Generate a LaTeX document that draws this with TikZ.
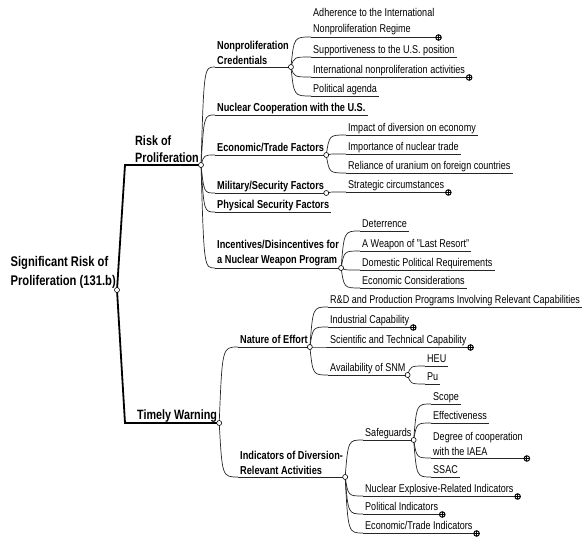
\documentclass[tikz,border=0pt]{standalone}
\usepackage{fontspec}
\setmainfont{Liberation Sans}[FakeStretch=0.8]
\usetikzlibrary{calc}

\begin{document}
\begin{tikzpicture}[x=1pt, y=-1pt,
  topic/.style={anchor=south west, inner xsep=2pt, inner ysep=2.5pt, text depth=1pt, align=left},
  twolines/.style={text depth={}, inner ysep=2pt},
  lvlzero/.style={font=\bfseries\fontsize{14}{19}\selectfont, align=left, inner xsep=1pt, inner ysep=1pt},
  lvlone/.style={topic, font=\bfseries\fontsize{13.5}{17}\selectfont},
  lvltwo/.style={topic, font=\bfseries\fontsize{11.5}{15}\selectfont},
  leaf/.style={topic, font=\fontsize{11.3}{15.5}\selectfont},
  twig/.style={line width=0.7pt, black!85},
  trunk/.style={line width=1.8pt, line join=miter},
  knob/.style={circle, draw, fill=white, line width=0.6pt, inner sep=0pt, minimum size=5pt},
  more/.style={circle, draw, fill=white, line width=1pt, inner sep=0pt, minimum size=5.5pt,
    path picture={\draw[line width=0.8pt] (path picture bounding box.west) -- (path picture bounding box.east)
      (path picture bounding box.north) -- (path picture bounding box.south);}}
]
\useasboundingbox (0,0) rectangle (584,540);
% the root
\node[lvlzero, anchor=south east] (root) at (117,290) {Significant Risk of\\Proliferation (131.b)};
\coordinate (rk) at (125,165);
\coordinate (wk) at (125,423);
% first level
\node[lvlone, twolines] (risk) at (133,165) {Risk of\\Proliferation};
\node[lvlone] (warn) at (135,423) {Timely Warning};
% risk of proliferation
\node[lvltwo, twolines] (cred) at (215,67) {Nonproliferation\\Credentials};
\node[lvltwo] (coop) at (215,115) {Nuclear Cooperation with the U.S.};
\node[lvltwo] (econ) at (215,155) {Economic/Trade Factors};
\node[lvltwo] (mil) at (215,193) {Military/Security Factors};
\node[lvltwo] (phys) at (215,212) {Physical Security Factors};
\node[lvltwo, twolines] (incent) at (215,268) {Incentives/Disincentives for\\a Nuclear Weapon Program};
% credentials
\node[leaf, twolines] (adher) at (311,37) {Adherence to the International\\Nonproliferation Regime};
\node[leaf] (supp) at (311,57) {Supportiveness to the U.S. position};
\node[leaf] (intl) at (311,77) {International nonproliferation activities};
\node[leaf] (pol) at (311,96) {Political agenda};
% economic/trade
\node[leaf] (impact) at (346,135) {Impact of diversion on economy};
\node[leaf] (import) at (346,154) {Importance of nuclear trade};
\node[leaf] (reli) at (346,173) {Reliance of uranium on foreign countries};
% military/security
\node[leaf] (strat) at (346,192) {Strategic circumstances};
% incentives
\node[leaf] (deter) at (360,231) {Deterrence};
\node[leaf] (weap) at (360,251) {A Weapon of "Last Resort"};
\node[leaf] (dom) at (360,270) {Domestic Political Requirements};
\node[leaf] (ecc) at (360,288) {Economic Considerations};
% timely warning
\node[lvltwo] (nature) at (238,347) {Nature of Effort};
\node[lvltwo, twolines] (indic) at (238,477) {Indicators of Diversion-\\Relevant Activities};
% nature of effort
\node[leaf] (rnd) at (328,307) {R\&D and Production Programs Involving Relevant Capabilities};
\node[leaf] (ind) at (328,327) {Industrial Capability};
\node[leaf] (sci) at (328,347) {Scientific and Technical Capability};
\node[leaf] (snm) at (328,375) {Availability of SNM};
\node[leaf] (heu) at (425,366) {HEU};
\node[leaf] (pu) at (425,384) {Pu};
% indicators
\node[leaf] (safe) at (363,440) {Safeguards};
\node[leaf] (nucex) at (363,496) {Nuclear Explosive-Related Indicators};
\node[leaf] (polind) at (363,514) {Political Indicators};
\node[leaf] (ectr) at (363,533) {Economic/Trade Indicators};
\node[leaf] (scope) at (431,404) {Scope};
\node[leaf] (eff) at (431,423) {Effectiveness};
\node[leaf, twolines] (deg) at (431,458) {Degree of cooperation\\with the IAEA};
\node[leaf] (ssac) at (431,477) {SSAC};
% trunk
\draw[trunk] (root.south east) -- (rk) -- (risk.south east);
\draw[trunk] (root.south east) -- (wk) -- (warn.south east);
% underlines
\foreach \n in {cred,coop,econ,mil,phys,incent,adher,supp,intl,pol,impact,import,reli,strat,
  deter,weap,dom,ecc,nature,indic,rnd,ind,sci,snm,heu,pu,safe,nucex,polind,ectr,scope,eff,deg,ssac}
  \draw[twig] (\n.south west) -- (\n.south east);
% branches
\foreach \p/\c in {risk/cred,risk/coop,risk/econ,risk/mil,risk/phys,risk/incent,
  cred/adher,cred/supp,cred/intl,cred/pol,econ/impact,econ/import,econ/reli,mil/strat,
  incent/deter,incent/weap,incent/dom,incent/ecc,warn/nature,warn/indic,
  nature/rnd,nature/ind,nature/sci,nature/snm,snm/heu,snm/pu,
  indic/safe,indic/nucex,indic/polind,indic/ectr,safe/scope,safe/eff,safe/deg,safe/ssac}
  \draw[twig] (\p.south east) .. controls ($(\p.south east |- \c.south west)+(3,0)$) .. (\c.south west);
% knobs
\foreach \n in {root,risk,warn,cred,econ,mil,incent,nature,snm,indic,safe}
  \node[knob] at (\n.south east) {};
\foreach \n in {adher,intl,strat,ind,sci,deg,nucex,polind,ectr}
  \node[more] at ($(\n.south east)+(2,0.5)$) {};
\end{tikzpicture}
\end{document}
